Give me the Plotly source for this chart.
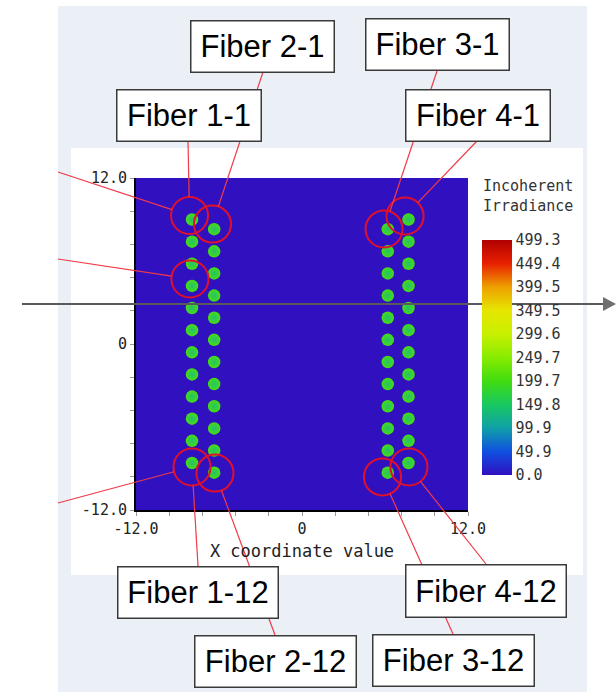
import plotly.graph_objects as go

# ---------------- data ----------------
fiber_names = ["Fiber 1", "Fiber 2", "Fiber 3", "Fiber 4"]
fiber1_x = [-7.95] * 12
fiber1_y = [9.0, 7.4, 5.8, 4.2, 2.6, 1.0, -0.6, -2.2, -3.8, -5.4, -7.0, -8.6]
fiber2_x = [-6.35] * 12
fiber2_y = [8.3, 6.7, 5.1, 3.5, 1.9, 0.3, -1.3, -2.9, -4.5, -6.1, -7.7, -9.3]
fiber3_x = [6.2] * 12
fiber3_y = [8.3, 6.7, 5.1, 3.5, 1.9, 0.3, -1.3, -2.9, -4.5, -6.1, -7.7, -9.3]
fiber4_x = [7.7] * 12
fiber4_y = [9.0, 7.4, 5.8, 4.2, 2.6, 1.0, -0.6, -2.2, -3.8, -5.4, -7.0, -8.6]
irradiance = [205, 205, 205, 205, 205, 205, 205, 205, 205, 205, 205, 205]

cbar_vals = [0.0, 49.9, 99.9, 149.8, 199.7, 249.7, 299.6, 349.5, 399.5, 449.4, 499.3]
cbar_text = ["0.0", "49.9", "99.9", "149.8", "199.7", "249.7", "299.6", "349.5", "399.5", "449.4", "499.3"]

axis_ticks = [-12, -9.6, -7.2, -4.8, -2.4, 0, 2.4, 4.8, 7.2, 9.6, 12]
axis_text = ["-12.0", "", "", "", "", "0", "", "", "", "", "12.0"]

# highlight circles (data coordinates)
circle_x = [-8.13, -6.47, -8.10, 5.93, 7.45, -7.95, -6.29, 5.82, 7.73]
circle_y = [9.29, 8.67, 4.70, 8.31, 9.25, -8.89, -9.33, -9.61, -8.89]
circle_r = 1.34

# ---------------- layout geometry (pixels) ----------------
W, H = 616, 692
PX0, PX1, PY0, PY1 = 136, 468, 178, 510  # plot area
XMIN, XMAX, YMIN, YMAX = -12, 12, -12, 12


def px(x):
    return x / W


def py(y):
    return 1 - y / H


def d2p(x, y):
    return (PX0 + (x - XMIN) * (PX1 - PX0) / (XMAX - XMIN),
            PY1 - (y - YMIN) * (PY1 - PY0) / (YMAX - YMIN))


colorscale = [
    [0.0, "#3010c0"], [0.1, "#1050e0"], [0.2, "#10a0a8"], [0.3, "#18c860"],
    [0.4, "#40dc10"], [0.5, "#88ec00"], [0.6, "#c8f000"], [0.7, "#e6e600"],
    [0.8, "#eea000"], [0.9, "#e82000"], [1.0, "#b00000"],
]

fig = go.Figure()
series = [(fiber1_x, fiber1_y), (fiber2_x, fiber2_y), (fiber3_x, fiber3_y), (fiber4_x, fiber4_y)]
for i, (xs, ys) in enumerate(series):
    fig.add_trace(go.Scatter(
        x=xs, y=ys, mode="markers", name=fiber_names[i], showlegend=False,
        marker=dict(
            size=12.5, color=irradiance, colorscale=colorscale, cmin=0, cmax=499.3,
            gradient=dict(type="radial", color="#22c070"),
            line=dict(width=0),
            showscale=(i == 0),
            colorbar=dict(
                thickness=30, thicknessmode="pixels", len=235, lenmode="pixels",
                x=px(482), xanchor="left", y=py(357.5), yanchor="middle",
                xpad=0, ypad=0, outlinewidth=0, ticks="",
                tickmode="array", tickvals=cbar_vals, ticktext=cbar_text,
                tickfont=dict(family="DejaVu Sans Mono", size=15, color="#333"),
            ),
        ),
    ))

shapes = []
# background panels
shapes.append(dict(type="rect", xref="paper", yref="paper", x0=px(58), x1=px(587),
                   y0=py(692), y1=py(6), fillcolor="#eaf0f5", line=dict(width=0), layer="below"))
shapes.append(dict(type="rect", xref="paper", yref="paper", x0=px(71), x1=px(583),
                   y0=py(575), y1=py(148), fillcolor="white", line=dict(width=0), layer="below"))
# irradiance map background
shapes.append(dict(type="rect", xref="paper", yref="paper", x0=px(PX0), x1=px(PX1),
                   y0=py(PY1), y1=py(PY0), fillcolor="#3110bf", line=dict(width=0), layer="below"))

# circles
for cx, cy in zip(circle_x, circle_y):
    shapes.append(dict(type="circle", xref="x", yref="y", x0=cx - circle_r, x1=cx + circle_r,
                       y0=cy - circle_r, y1=cy + circle_r, line=dict(color="#e0102a", width=2)))

# callout boxes: label, left, top, right, bottom (px)
boxes = [
    ("Fiber 1-1", 116, 89, 261, 141),
    ("Fiber 2-1", 190, 20, 334, 72),
    ("Fiber 3-1", 365, 19, 509, 71),
    ("Fiber 4-1", 405, 89, 550, 141),
    ("Fiber 1-12", 118, 566, 279, 618),
    ("Fiber 2-12", 194, 635, 356, 687),
    ("Fiber 3-12", 372, 634, 534, 686),
    ("Fiber 4-12", 405, 564, 566, 617),
]
# leader lines: (start point px, circle index)
leaders = [
    ((188, 141), 0), ((263, 72), 1), ((437, 71), 3), ((477, 141), 4),
    ((58, 172), 0), ((58, 259), 2), ((58, 503), 5),
    ((198, 566), 5), ((275, 635), 6), ((453, 634), 7), ((486, 564), 8),
]
rpx = circle_r * (PX1 - PX0) / (XMAX - XMIN)
for (sx, sy), ci in leaders:
    cx, cy = d2p(circle_x[ci], circle_y[ci])
    dx, dy = sx - cx, sy - cy
    n = (dx * dx + dy * dy) ** 0.5
    ex, ey = cx + dx / n * rpx, cy + dy / n * rpx
    shapes.append(dict(type="line", xref="paper", yref="paper", x0=px(sx), y0=py(sy),
                       x1=px(ex), y1=py(ey), line=dict(color="#f03a48", width=1.2)))

# horizontal arrow
shapes.append(dict(type="line", xref="paper", yref="paper", x0=px(22), x1=px(604),
                   y0=py(304), y1=py(304), line=dict(color="#5a5a5a", width=2)))
shapes.append(dict(type="path", xref="paper", yref="paper",
                   path=f"M {px(603)} {py(297)} L {px(616)} {py(304)} L {px(603)} {py(311)} Z",
                   fillcolor="#707070", line=dict(width=0)))

annotations = []
for label, l, t, r, b in boxes:
    annotations.append(dict(
        text=label, xref="paper", yref="paper", x=px((l + r) / 2), y=py((t + b) / 2),
        xanchor="center", yanchor="middle", showarrow=False,
        width=r - l - 2, height=b - t - 2, align="center", valign="middle",
        bgcolor="white", bordercolor="#3a3a3a", borderwidth=1.5, borderpad=0,
        font=dict(family="Liberation Sans, Arial", size=31, color="black"),
    ))
annotations.append(dict(
    text="Incoherent<br>Irradiance", xref="paper", yref="paper", x=px(481), y=py(175),
    xanchor="left", yanchor="top", showarrow=False, align="left",
    font=dict(family="DejaVu Sans Mono", size=15, color="#333"),
))

axfont = dict(family="DejaVu Sans Mono", size=15, color="#222")
fig.update_layout(
    width=W, height=H, autosize=False,
    margin=dict(l=0, r=0, t=0, b=0, pad=0, autoexpand=False),
    paper_bgcolor="white", plot_bgcolor="#3110bf",
    shapes=shapes, annotations=annotations,
    xaxis=dict(domain=[px(PX0), px(PX1)], range=[XMIN, XMAX], showgrid=False, zeroline=False,
               automargin=False, showline=True, linecolor="black", linewidth=2,
               tickmode="array", tickvals=axis_ticks, ticktext=axis_text,
               ticks="outside", ticklen=4, tickcolor="#999", tickfont=axfont,
               title=dict(text="X coordinate value",
                          font=dict(family="DejaVu Sans Mono", size=17, color="#222"), standoff=8)),
    yaxis=dict(domain=[py(PY1), py(PY0)], range=[YMIN, YMAX], showgrid=False, zeroline=False,
               automargin=False, showline=True, linecolor="black", linewidth=2,
               tickmode="array", tickvals=axis_ticks, ticktext=axis_text,
               ticks="outside", ticklen=4, tickcolor="#999", tickfont=axfont),
)

fig.write_html("out.html")
